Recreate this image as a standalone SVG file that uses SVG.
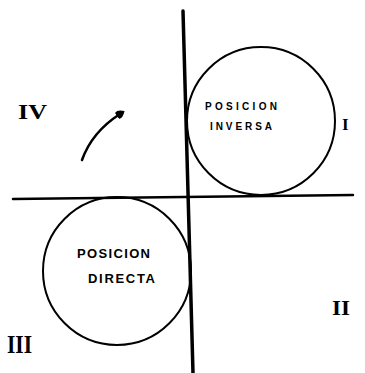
<svg xmlns="http://www.w3.org/2000/svg" width="365" height="373" viewBox="0 0 365 373">
<style>
.ax{stroke:#000;stroke-linecap:round;fill:none}
.circ{stroke:#000;stroke-width:2;fill:none}
.lbl{font-family:"Liberation Sans",Arial,sans-serif;font-weight:bold;fill:#000}
.rom{font-family:"Liberation Serif","Times New Roman",serif;font-weight:bold;fill:#000}
</style>
<defs>
<marker id="ah" viewBox="0 0 10 10" refX="4" refY="5" markerWidth="3.6" markerHeight="3.6" orient="auto">
<path d="M0,1 Q4,-1 10,5 Q4,11 0,9 z" fill="#000"/>
</marker>
</defs>
<rect width="365" height="373" fill="#fff"/>
<g id="connectors">
<line class="ax" x1="183" y1="11" x2="193" y2="373" stroke-width="3.5"/>
<line class="ax" x1="13" y1="199" x2="353" y2="195" stroke-width="2.5"/>
<path class="ax" d="M82,160 Q92,132 120,114" stroke-width="2.5" marker-end="url(#ah)"/>
</g>
<g id="inversa">
<circle class="circ" cx="261" cy="121" r="74"/>
<text class="lbl" x="205" y="110" font-size="10" textLength="72" lengthAdjust="spacing">POSICION</text>
<text class="lbl" x="210" y="130" font-size="10" textLength="62" lengthAdjust="spacing">INVERSA</text>
</g>
<g id="directa">
<circle class="circ" cx="117" cy="271" r="74"/>
<text class="lbl" x="77" y="258" font-size="13" textLength="73" lengthAdjust="spacing">POSICION</text>
<text class="lbl" x="88" y="283" font-size="13" textLength="67" lengthAdjust="spacing">DIRECTA</text>
</g>
<g id="q1"><text class="rom" x="342" y="130" font-size="17">I</text></g>
<g id="q2"><text class="rom" x="332" y="315" font-size="21" textLength="18" lengthAdjust="spacingAndGlyphs">II</text></g>
<g id="q3"><text class="rom" x="7" y="353" font-size="26" textLength="25" lengthAdjust="spacingAndGlyphs">III</text></g>
<g id="q4"><text class="rom" x="18" y="119" font-size="21" textLength="29" lengthAdjust="spacingAndGlyphs">IV</text></g>
</svg>
